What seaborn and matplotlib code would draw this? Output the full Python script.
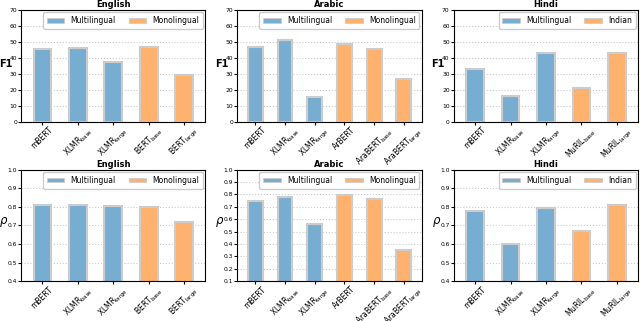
import numpy as np
import pandas as pd
import matplotlib
matplotlib.use("Agg")
import matplotlib.pyplot as plt
import seaborn as sns
from matplotlib.patches import Patch

# models per language
en_models = ['mBERT', r'XLMR$_{\mathrm{base}}$', r'XLMR$_{\mathrm{large}}$',
             r'BERT$_{\mathrm{base}}$', r'BERT$_{\mathrm{large}}$']
ar_models = ['mBERT', r'XLMR$_{\mathrm{base}}$', r'XLMR$_{\mathrm{large}}$', 'ArBERT',
             r'AraBERT$_{\mathrm{base}}$', r'AraBERT$_{\mathrm{large}}$']
hi_models = ['mBERT', r'XLMR$_{\mathrm{base}}$', r'XLMR$_{\mathrm{large}}$',
             r'MuRIL$_{\mathrm{base}}$', r'MuRIL$_{\mathrm{large}}$']

en_groups = ['Multilingual'] * 3 + ['Monolingual'] * 2
ar_groups = ['Multilingual'] * 3 + ['Monolingual'] * 3
hi_groups = ['Multilingual'] * 3 + ['Indian'] * 2

en_f1 = [45.5, 46.0, 37.5, 47.0, 29.0]
ar_f1 = [46.5, 51.0, 15.5, 48.5, 45.5, 26.5]
hi_f1 = [33.0, 16.0, 43.0, 21.0, 43.0]

en_rho = [0.81, 0.81, 0.805, 0.80, 0.72]
ar_rho = [0.75, 0.775, 0.56, 0.795, 0.76, 0.355]
hi_rho = [0.775, 0.60, 0.795, 0.67, 0.81]

# tab:blue / tab:orange at alpha 0.6 on white
blue = '#78add2'
orange = '#ffb26e'

panels = [
    ('English', en_models, en_groups, en_f1, 'F1', (0, 70), 'Monolingual'),
    ('Arabic', ar_models, ar_groups, ar_f1, 'F1', (0, 70), 'Monolingual'),
    ('Hindi', hi_models, hi_groups, hi_f1, 'F1', (0, 70), 'Indian'),
    ('English', en_models, en_groups, en_rho, 'rho', (0.4, 1.0), 'Monolingual'),
    ('Arabic', ar_models, ar_groups, ar_rho, 'rho', (0.1, 1.0), 'Monolingual'),
    ('Hindi', hi_models, hi_groups, hi_rho, 'rho', (0.4, 1.0), 'Indian'),
]

fig, axes = plt.subplots(2, 3, figsize=(6.4, 3.21), dpi=100)
fig.subplots_adjust(left=0.033, right=0.997, top=0.969, bottom=0.124,
                    wspace=0.174, hspace=0.43)

for ax, (title, models, groups, vals, metric, ylim, other) in zip(axes.flat, panels):
    df = pd.DataFrame({'model': models, 'value': vals, 'group': groups})
    sns.barplot(data=df, x='model', y='value', hue='group', dodge=False,
                palette={'Multilingual': blue, other: orange}, saturation=1,
                width=0.5, edgecolor='#cccccc', linewidth=1.5, ax=ax, legend=False)
    ax.set_ylim(*ylim)
    ax.set_xlim(-0.6, len(models) - 0.4)
    if metric == 'F1':
        ax.set_yticks(np.arange(0, 71, 10))
        ax.set_ylabel('F1', fontsize=7, fontweight='bold', rotation=0)
        ax.yaxis.set_label_coords(-0.085, 0.47)
    else:
        ax.set_yticks(np.arange(ylim[0], 1.001, 0.1))
        ax.set_ylabel(r'$\rho$', fontsize=8.5, rotation=0)
        ax.yaxis.set_label_coords(-0.095, 0.47)
    ax.yaxis.set_major_formatter(plt.FuncFormatter(
        lambda v, p, m=metric: f'{v:.0f}' if m == 'F1' else f'{v:.1f}'))
    ax.set_xlabel('')
    ax.set_title(title, fontsize=6, fontweight='bold', pad=2)
    ax.tick_params(axis='y', labelsize=4.3, length=2, pad=1)
    ax.tick_params(axis='x', labelsize=5.5, length=2, pad=0.5)
    plt.setp(ax.get_xticklabels(), rotation=45, ha='center')
    ax.yaxis.grid(True, linestyle=':', color='#cccccc', linewidth=0.8)
    ax.set_axisbelow(True)
    handles = [Patch(facecolor=blue, edgecolor='#cccccc', linewidth=0.6),
               Patch(facecolor=orange, edgecolor='#cccccc', linewidth=0.6)]
    ax.legend(handles, ['Multilingual', other], loc='upper right', ncol=2,
              fontsize=5.5, handlelength=2.3, handleheight=0.6, handletextpad=0.8,
              columnspacing=1.7, borderpad=0.5, framealpha=1.0, borderaxespad=0.3)

fig.savefig('out.png', dpi=100)
